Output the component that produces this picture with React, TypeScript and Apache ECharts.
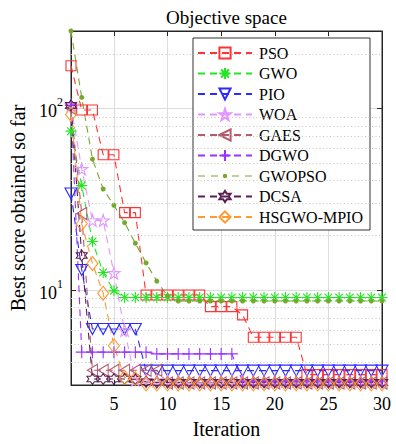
import React, { useEffect, useRef } from 'react';
import * as echarts from 'echarts';

const iterations = [1, 2, 3, 4, 5, 6, 7, 8, 9, 10, 11, 12, 13, 14, 15, 16, 17, 18, 19, 20, 21, 22, 23, 24, 25, 26, 27, 28, 29, 30];

const pso = [172, 98, 98, 55.6, 55.6, 26.7, 26.7, 9.4, 9.4, 9.4, 9.4, 9.4, 9.4, 8.1, 8.1, 8.1, 7.3, 5.5, 5.5, 5.5, 5.5, 5.5, 3.42, 3.42, 3.42, 3.42, 3.42, 3.42, 3.42, 3.42];
const gwo = [75, 37.6, 18.5, 12.5, 9.9, 9.1, 9.1, 9.1, 9.1, 9.1, 9.1, 9.1, 9.1, 9.1, 9.1, 9.1, 9.1, 9.1, 9.1, 9.1, 9.1, 9.1, 9.1, 9.1, 9.1, 9.1, 9.1, 9.1, 9.1, 9.1];
const pio = [34, 12.9, 6.1, 6.1, 6.1, 6.1, 6.1, 3.6, 3.6, 3.6, 3.6, 3.6, 3.6, 3.6, 3.6, 3.6, 3.6, 3.6, 3.6, 3.6, 3.6, 3.6, 3.6, 3.6, 3.6, 3.6, 3.6, 3.6, 3.6, 3.6];
const woa = [104, 46.4, 24.2, 24.2, 12.4, 6.0, 3.2, 3.2, 3.18, 3.18, 3.16, 3.16, 3.15, 3.15, 3.15, 3.15, 3.15, 3.15, 3.15, 3.15, 3.15, 3.15, 3.15, 3.15, 3.15, 3.15, 3.15, 3.15, 3.15, 3.15];
const gaes = [100, 26.4, 3.62, 3.62, 3.62, 3.62, 3.62, 3.62, 3.62, 3.08, 3.08, 3.08, 3.08, 3.08, 3.08, 3.08, 3.08, 3.08, 3.08, 3.08, 3.08, 3.08, 3.08, 3.08, 3.08, 3.08, 3.08, 3.08, 3.08, 3.08];
const dgwo = [104, 4.55, 4.55, 4.55, 4.55, 4.55, 4.55, 4.55, 4.45, 4.45, 4.45, 4.45, 4.45, 4.45, 4.45, 4.45, 3.15, 3.15, 3.15, 3.15, 3.15, 3.15, 3.15, 3.15, 3.15, 3.15, 3.15, 3.15, 3.15, 3.15];
const gwopso = [267, 115, 52.6, 36, 29.3, 23.5, 18.1, 14.1, 11.2, 9.3, 8.7, 8.7, 8.7, 8.7, 8.7, 8.7, 8.7, 8.7, 8.7, 8.7, 8.7, 8.7, 8.7, 8.7, 8.7, 8.7, 8.7, 8.7, 8.7, 8.7];
const dcsa = [104, 15.5, 3.24, 3.24, 3.24, 3.24, 3.22, 3.12, 3.1, 3.1, 3.1, 3.1, 3.1, 3.1, 3.1, 3.1, 3.1, 3.1, 3.1, 3.1, 3.1, 3.1, 3.1, 3.1, 3.1, 3.1, 3.1, 3.1, 3.1, 3.1];
const hsgwo = [92.7, 23.2, 14, 9.6, 4.93, 3.3, 3.25, 3.04, 3.04, 3.04, 3.04, 3.04, 3.04, 3.04, 3.04, 3.04, 3.04, 3.04, 3.04, 3.04, 3.04, 3.04, 3.04, 3.04, 3.04, 3.04, 3.04, 3.04, 3.04, 3.04];

const seriesNames = ['PSO', 'GWO', 'PIO', 'WOA', 'GAES', 'DGWO', 'GWOPSO', 'DCSA', 'HSGWO-MPIO'];
const xTickValues = [5, 10, 15, 20, 25, 30];
const yMinorGrid = [4, 5, 6, 7, 8, 9, 20, 30, 40, 50, 60, 70, 80, 90, 200];

const FONT = 'Liberation Serif';

const STAR5 = 'path://M10,0L12.25,6.91L19.51,6.91L13.63,11.18L15.88,18.09L10,13.82L4.12,18.09L6.37,11.18L0.49,6.91L7.75,6.91Z';
const STAR6 = 'path://M10,0L12.89,5L18.66,5L15.77,10L18.66,15L12.89,15L10,20L7.11,15L1.34,15L4.23,10L1.34,5L7.11,5Z';
const ASTER = 'path://M0,10L20,10M10,0L10,20M3,3L17,17M3,17L17,3';
const PLUS = 'path://M0,10L20,10M10,0L10,20';
const GWOPSO_ICON = 'path://M0,0M54,14M0,6.5L7,6.5L7,7.5L0,7.5ZM13,6.5L20,6.5L20,7.5L13,7.5ZM34,6.5L41,6.5L41,7.5L34,7.5ZM47,6.5L54,6.5L54,7.5L47,7.5ZM24.8,7a2.2,2.2 0 1,0 4.4,0a2.2,2.2 0 1,0 -4.4,0Z';

export default function App() {
  const ref = useRef<HTMLDivElement>(null);
  useEffect(() => {
    const chart = echarts.init(ref.current!, null, { renderer: 'svg' });
    const pair = (ys: number[]) => iterations.map((x, i) => [x, ys[i]]);
    const mk = (name: string, ys: number[], color: string, symbol: string, size: any, extra: any = {}) => ({
      name,
      type: 'line',
      data: pair(ys),
      symbol,
      symbolSize: size,
      showAllSymbol: true,
      clip: false,
      lineStyle: { color, width: 1.1, type: [7, 5] },
      itemStyle: { color: 'rgba(0,0,0,0)', borderColor: color, borderWidth: 1.1 },
      emphasis: { disabled: true },
      ...extra,
    });

    const axisColor = '#262626';

    chart.setOption({
      animation: false,
      textStyle: { fontFamily: FONT },
      grid: { left: 71, top: 31, right: 14, bottom: 56, show: true, borderColor: axisColor, borderWidth: 1, backgroundColor: '#fff' },
      graphic: [
        {
          type: 'text',
          x: 226.5,
          y: 17,
          style: { text: 'Objective space', fontFamily: FONT, fontSize: 19, fill: '#000', textAlign: 'center', textVerticalAlign: 'middle' },
        },
      ],
      legend: {
        orient: 'vertical',
        left: 193,
        top: 38,
        padding: [7, 7, 5, 4],
        itemWidth: 54,
        itemHeight: 14,
        itemGap: 4.5,
        backgroundColor: '#fff',
        borderColor: '#333',
        borderWidth: 1,
        borderRadius: 0,
        textStyle: { fontFamily: FONT, fontSize: 16, lineHeight: 16, color: '#000', padding: [0, 0, 0, 2] },
        data: seriesNames.map((n) => (n === 'GWOPSO' ? { name: n, icon: GWOPSO_ICON } : n)),
      },
      xAxis: [
        {
          type: 'value',
          min: 1,
          max: 30,
          name: 'Iteration',
          nameLocation: 'middle',
          nameGap: 34,
          nameTextStyle: { fontFamily: FONT, fontSize: 20, color: '#000' },
          axisLine: { show: true, lineStyle: { color: axisColor } },
          axisTick: { show: true, inside: true, length: 5, customValues: xTickValues, lineStyle: { color: axisColor } },
          axisLabel: { customValues: xTickValues, fontFamily: FONT, fontSize: 18, color: '#000', margin: 10 },
          splitLine: { show: true, lineStyle: { color: '#dcdcdc', width: 1 } },
        },
        {
          type: 'value',
          position: 'top',
          min: 1,
          max: 30,
          axisLine: { show: true, lineStyle: { color: axisColor } },
          axisTick: { show: true, inside: true, length: 5, customValues: xTickValues, lineStyle: { color: axisColor } },
          axisLabel: { show: false },
          splitLine: { show: false },
        },
      ],
      yAxis: [
        {
          type: 'log',
          logBase: 10,
          min: 3,
          max: 267,
          name: 'Best score obtained so far',
          nameLocation: 'middle',
          nameGap: 38,
          nameTextStyle: { fontFamily: FONT, fontSize: 20, color: '#000' },
          axisLine: { show: true, lineStyle: { color: axisColor } },
          axisTick: { show: true, inside: true, length: 5, lineStyle: { color: axisColor } },
          axisLabel: {
            margin: 8,
            formatter: (v: number) => {
              const e = Math.round(Math.log10(v));
              if (Math.abs(v - Math.pow(10, e)) < 1e-6) return `{b|10}{s|${e}}`;
              return '';
            },
            rich: {
              b: { fontFamily: FONT, fontSize: 18, color: '#000', padding: [6, 0, 0, 0] },
              s: { fontFamily: FONT, fontSize: 12, color: '#000', verticalAlign: 'top' },
            },
          },
          splitLine: { show: true, lineStyle: { color: '#dcdcdc', width: 1 } },
        },
        {
          type: 'log',
          logBase: 10,
          position: 'right',
          min: 3,
          max: 267,
          axisLine: { show: true, lineStyle: { color: axisColor } },
          axisTick: { show: true, inside: true, length: 5, lineStyle: { color: axisColor } },
          axisLabel: { show: false },
          splitLine: { show: false },
        },
      ],
      series: [
        {
          name: 'grid-minor',
          type: 'line',
          data: [[1, 10]],
          symbol: 'none',
          lineStyle: { opacity: 0 },
          silent: true,
          z: 1,
          markLine: {
            silent: true,
            symbol: 'none',
            label: { show: false },
            lineStyle: { color: '#c4c4c4', type: [1, 2.5], width: 1 },
            emphasis: { disabled: true },
            data: yMinorGrid.map((v) => ({ yAxis: v })),
          },
        },
        mk('PSO', pso, '#ff3333', 'rect', 10),
        mk('GWO', gwo, '#22e622', ASTER, 11),
        mk('PIO', pio, '#2b2bff', 'triangle', [12, 11], { symbolRotate: 180 }),
        mk('WOA', woa, '#e396ff', STAR5, 12),
        mk('GAES', gaes, '#b65a6c', 'triangle', [12, 10], { symbolRotate: 90 }),
        mk('DGWO', dgwo, '#9933ff', PLUS, 12),
        mk('GWOPSO', gwopso, '#77a82e', 'circle', 5, {
          itemStyle: { color: '#77a82e', borderColor: '#77a82e', borderWidth: 0 },
        }),
        mk('DCSA', dcsa, '#5a2052', STAR6, 11),
        mk('HSGWO-MPIO', hsgwo, '#ff9933', 'diamond', [11, 14]),
      ],
    });
    return () => chart.dispose();
  }, []);
  return <div ref={ref} style={{ position: 'fixed', left: 0, top: 0, width: 396, height: 444, background: '#fff' }} />;
}
